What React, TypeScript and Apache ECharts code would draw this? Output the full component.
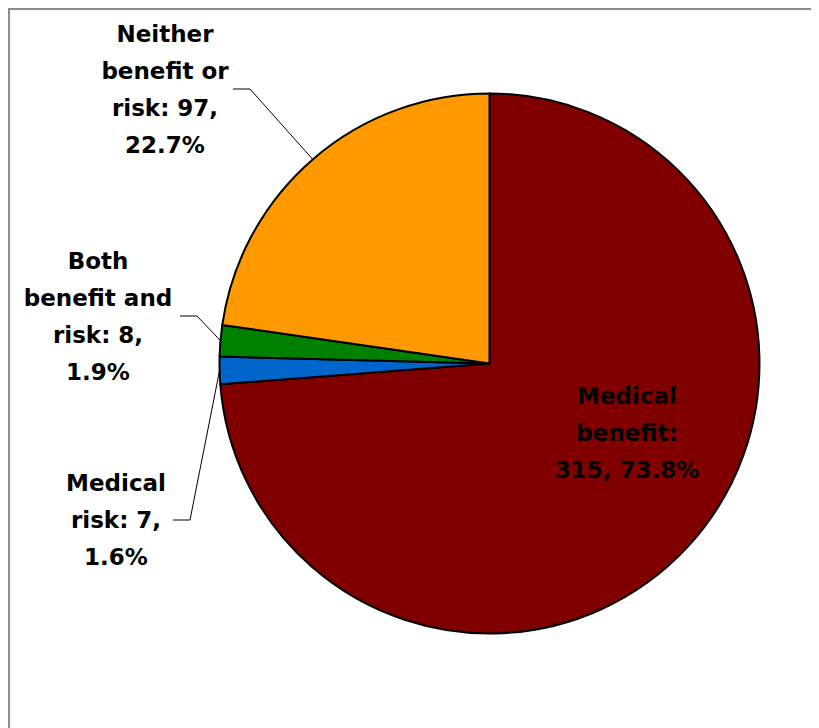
import React, { useEffect, useRef } from "react";
import * as echarts from "echarts";

const categories = ["Medical benefit", "Medical risk", "Both benefit and risk", "Neither benefit or risk"];
const labelTexts = [
  "Medical\nbenefit:\n315, 73.8%",
  "Medical\nrisk: 7,\n1.6%",
  "Both\nbenefit and\nrisk: 8,\n1.9%",
  "Neither\nbenefit or\nrisk: 97,\n22.7%",
];
const counts = [315, 7, 8, 97];
const colors = ["#800000", "#0066CC", "#008000", "#FF9900"];

// label layout (chart pixel coords): label centre, then elbow + end of leader line
const labelPlacement = [
  { x: 619, y: 425, line: null as number[][] | null },
  { x: 108, y: 512, line: [[182, 512], [165, 512]] },
  { x: 90, y: 308, line: [[189, 308], [172, 308]] },
  { x: 157, y: 81, line: [[242, 81], [225, 81]] },
];

export default function App() {
  const ref = useRef<HTMLDivElement>(null);
  useEffect(() => {
    if (!ref.current) return;
    document.documentElement.style.overflow = "hidden";
    const chart = echarts.init(ref.current, null, { renderer: "svg" });
    chart.setOption({
      animation: false,
      backgroundColor: "#ffffff",
      graphic: [
        { type: "line", shape: { x1: 0, y1: 1, x2: 811, y2: 1 }, style: { stroke: "#8c8c8c", lineWidth: 2 } },
        { type: "line", shape: { x1: 1, y1: 0, x2: 1, y2: 720 }, style: { stroke: "#8c8c8c", lineWidth: 2 } },
      ],
      series: [
        {
          type: "pie",
          center: [481.5, 355.5],
          radius: 270,
          startAngle: 90,
          clockwise: true,
          avoidLabelOverlap: false,
          itemStyle: { borderColor: "#000000", borderWidth: 2 },
          label: {
            show: true,
            position: "outside",
            color: "#000000",
            fontFamily: "DejaVu Sans",
            fontWeight: "bold",
            fontSize: 23,
            lineHeight: 37,
            align: "center",
            formatter: (p: any) => labelTexts[p.dataIndex],
          },
          labelLine: { show: true, lineStyle: { color: "#000000", width: 1 } },
          labelLayout: (params: any) => {
            const pl = labelPlacement[params.dataIndex];
            const res: any = { x: pl.x, y: pl.y, align: "center", verticalAlign: "middle" };
            if (pl.line && params.labelLinePoints) {
              res.labelLinePoints = [params.labelLinePoints[0], pl.line[0], pl.line[1]];
            }
            return res;
          },
          data: categories.map((name, i) => ({
            name,
            value: counts[i],
            itemStyle: { color: colors[i] },
            ...(i === 0 ? { label: { position: "inside" }, labelLine: { show: false } } : {}),
          })),
        },
      ],
    });
    return () => chart.dispose();
  }, []);
  return <div ref={ref} style={{ width: 811, height: 720 }} />;
}
